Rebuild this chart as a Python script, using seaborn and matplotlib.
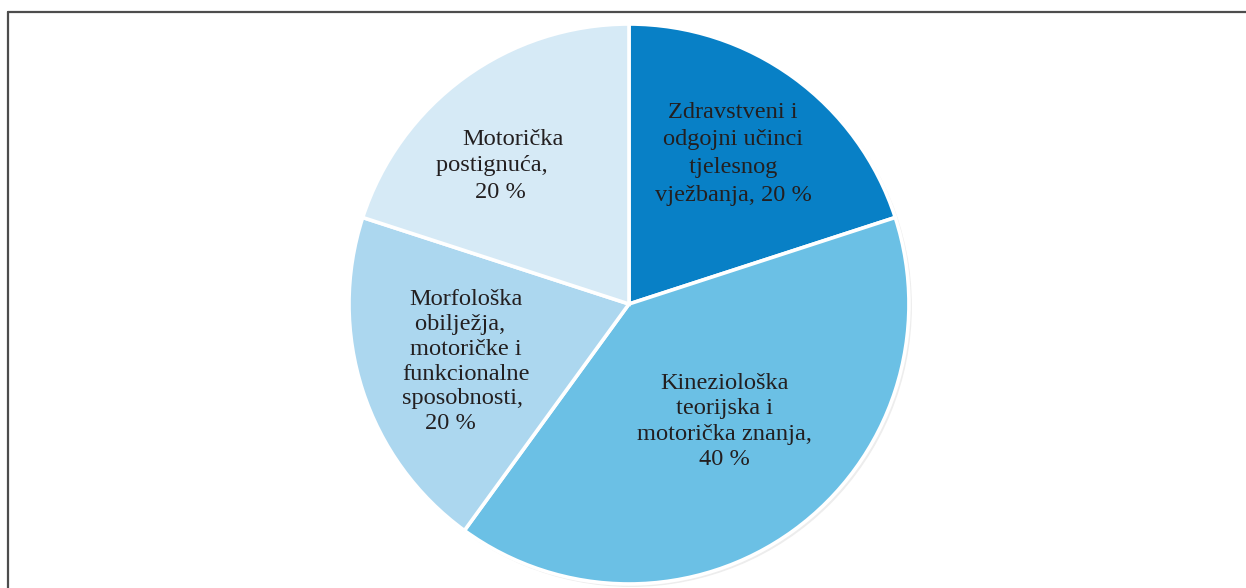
import matplotlib
matplotlib.use("Agg")
import matplotlib.pyplot as plt
from matplotlib.lines import Line2D
from matplotlib.patches import Circle
import seaborn as sns

categories = [
    "Zdravstveni i\nodgojni učinci\ntjelesnog\nvježbanja",
    "Kineziološka\nteorijska i\nmotorička znanja",
    "Morfološka\nobilježja,\nmotoričke i\nfunkcionalne\nsposobnosti",
    "Motorička\npostignuća",
]
shares = [20, 40, 20, 20]
colors = ["#0880c6", "#6bc0e5", "#acd7ef", "#d6eaf6"]

# label text per slice (as printed in the picture)
label_texts = [
    "Zdravstveni i\nodgojni učinci\n tjelesnog \nvježbanja, 20 %",
    "Kineziološka\nteorijska i\nmotorička znanja,\n40 %",
    "Morfološka\nobilježja,  \nmotoričke i\nfunkcionalne\nsposobnosti, \n20 %     ",
    "Motorička\npostignuća,       \n20 %    ",
]
label_pos = [(0.372, 0.537), (0.34, -0.42), (-0.583, -0.206), (-0.414, 0.493)]
label_spacing = [1.42, 1.28, 1.24, 1.32]

sns.set_theme(style="white")
plt.rcParams["font.family"] = ["Liberation Serif", "DejaVu Serif"]

fig = plt.figure(figsize=(12.46, 5.88), dpi=100)
ax = fig.add_axes([0.2801, 0.0068, 0.4494, 0.9524])

# soft shadow behind the pie
ax.add_patch(Circle((0.008, -0.008), 1.0, color="#ededed", zorder=0, clip_on=False))

wedges, _ = ax.pie(
    shares,
    colors=colors,
    startangle=90,
    counterclock=False,
    radius=1.0,
    wedgeprops=dict(edgecolor="white", linewidth=2.6),
)
for w in wedges:
    w.set_zorder(1)
    w.set_clip_on(False)

for txt, (x, y), ls in zip(label_texts, label_pos, label_spacing):
    ax.text(x, y, txt, ha="center", va="center", fontsize=17.6,
            color="#231f20", linespacing=ls, zorder=3)

ax.set_xlim(-1.0, 1.0)
ax.set_ylim(-1.0, 1.0)
ax.set_aspect("equal")
ax.axis("off")

# outer frame (top and left edges visible)
fig.add_artist(Line2D([0.0068, 1.0], [0.9804, 0.9804], transform=fig.transFigure,
                      color="#4d4d4d", linewidth=1.6))
fig.add_artist(Line2D([0.0068, 0.0068], [0.0, 0.9804], transform=fig.transFigure,
                      color="#4d4d4d", linewidth=1.6))

fig.savefig("out.png", dpi=100, facecolor="white")
